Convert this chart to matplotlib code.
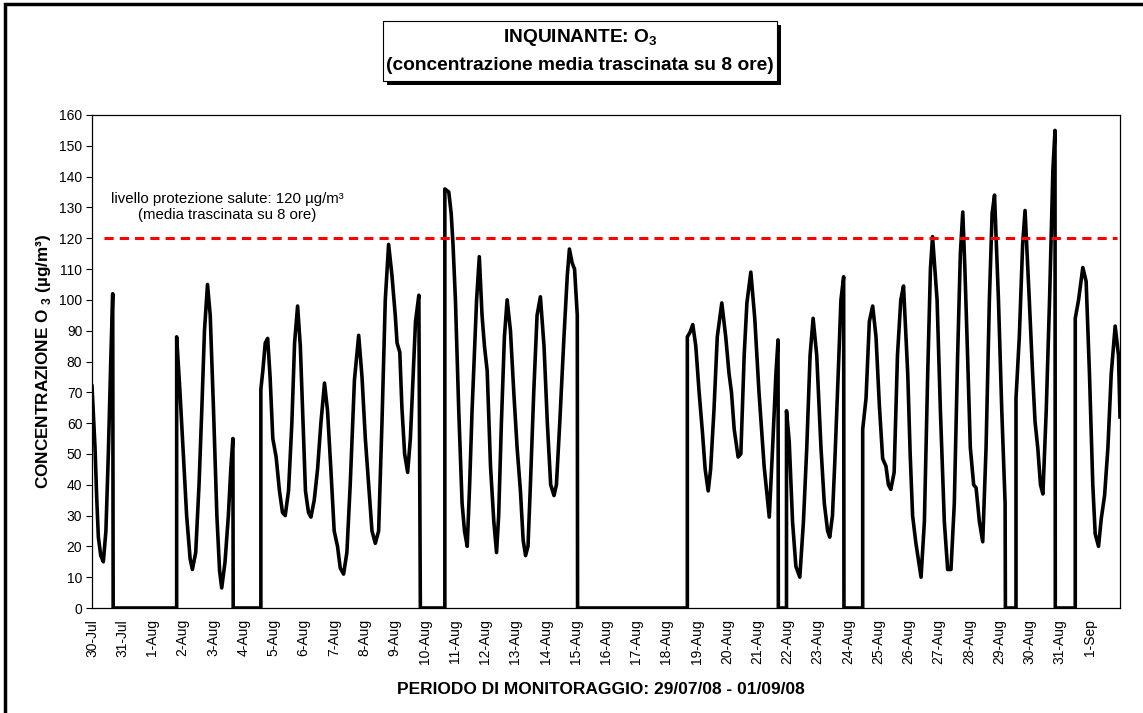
import matplotlib
matplotlib.use("Agg")
import matplotlib.pyplot as plt
from matplotlib.patches import Rectangle

plt.rcParams['font.family'] = ['Liberation Sans', 'DejaVu Sans']
plt.rcParams['mathtext.fontset'] = 'custom'
plt.rcParams['mathtext.rm'] = 'Liberation Sans'
plt.rcParams['mathtext.bf'] = 'Liberation Sans:bold'

# tempo in giorni dal 30-Jul 00:00, O3 media trascinata 8 ore (ug/m3), letto dal grafico
# i tratti a 0 sono i periodi senza dati
giorni = [
    0.00, 0.10, 0.155, 0.21, 0.29, 0.375, 0.46, 0.54, 0.62, 0.685, 0.70,
    2.80, 2.80, 2.91, 3.02, 3.13, 3.245, 3.32, 3.43, 3.54, 3.63, 3.72, 3.82, 3.91,
    4.02, 4.13, 4.22, 4.29, 4.40, 4.51, 4.59, 4.66, 4.67,
    5.585, 5.585, 5.65, 5.73, 5.81, 5.89, 5.98, 6.09, 6.20, 6.30, 6.39, 6.50, 6.61,
    6.70, 6.80, 6.89, 6.98, 7.06, 7.16, 7.24, 7.35, 7.46, 7.57, 7.69, 7.79, 7.90,
    8.01, 8.12, 8.21, 8.32, 8.43, 8.54, 8.68, 8.82, 8.93, 9.04, 9.15, 9.26, 9.37,
    9.48, 9.59, 9.70, 9.81, 9.92, 10.03, 10.09, 10.18, 10.25, 10.34, 10.44, 10.53,
    10.62, 10.70, 10.81, 10.86,
    11.67, 11.67, 11.80, 11.88, 11.94, 12.02, 12.13, 12.24, 12.32, 12.41, 12.49,
    12.57, 12.72, 12.81, 12.90, 12.98, 13.07, 13.18, 13.29, 13.38, 13.45, 13.54,
    13.64, 13.73, 13.84, 13.95, 14.06, 14.17, 14.26, 14.34, 14.42, 14.50, 14.61,
    14.72, 14.83, 14.95, 15.06, 15.17, 15.28, 15.36, 15.47, 15.61, 15.72, 15.79,
    15.88, 15.96, 16.05, 16.06,
    19.69, 19.69, 19.78, 19.87, 19.97, 20.08, 20.19, 20.28, 20.38, 20.46, 20.57,
    20.68, 20.83, 20.96, 21.07, 21.15, 21.24, 21.37, 21.46, 21.57, 21.66, 21.79,
    21.92, 22.06, 22.23, 22.40, 22.51, 22.62, 22.69, 22.70,
    22.97, 22.97, 23.06, 23.17, 23.28, 23.41, 23.53, 23.64, 23.75, 23.85, 23.97,
    24.11, 24.22, 24.33, 24.40, 24.49, 24.57, 24.68, 24.77, 24.86, 24.87,
    25.49, 25.49, 25.60, 25.71, 25.82, 25.93, 26.04, 26.15, 26.26, 26.34, 26.42,
    26.53, 26.64, 26.75, 26.84, 26.98, 27.06, 27.14, 27.25, 27.42, 27.53, 27.64,
    27.73, 27.80, 27.95, 28.06, 28.19, 28.30, 28.41, 28.52, 28.63, 28.72, 28.80,
    28.87, 28.94, 29.05, 29.16, 29.24, 29.35, 29.46, 29.57, 29.68, 29.77, 29.85,
    29.98, 30.09, 30.20, 30.21,
    30.56, 30.56, 30.67, 30.78, 30.86, 31.00, 31.11, 31.19, 31.28, 31.37, 31.45,
    31.56, 31.67, 31.78, 31.85, 31.86,
    32.52, 32.52, 32.63, 32.77, 32.88, 32.99, 33.10, 33.18, 33.29, 33.38, 33.49,
    33.60, 33.71, 33.84, 33.95, 34.00,
]
o3 = [
    72, 52, 36, 23, 17, 15, 25, 50, 80, 102, 0,
    0, 88, 70, 50, 30, 16, 12.5, 18, 40, 64, 90, 105, 95,
    64, 30, 12, 6.5, 15, 30, 45, 55, 0,
    0, 71, 77, 86, 87.5, 75, 55, 49, 38, 31, 30, 38, 60,
    86, 98, 85, 60, 38, 31, 29.5, 35, 45, 60, 73, 64, 45,
    25, 20, 13, 11, 18, 40, 74, 88.5, 75, 55, 40, 25, 21,
    25, 60, 100, 118, 108, 95, 86, 83, 65, 50, 44, 55,
    75, 93, 101.5, 0,
    0, 136, 135, 128, 118, 100, 64, 34, 25, 20, 40,
    64, 100, 114, 95, 85, 77, 46, 28, 18, 30, 60,
    88, 100, 90, 70, 52, 38, 22, 17, 20, 40, 70,
    95, 101, 85, 60, 40, 36.5, 40, 60, 88, 108, 116.5,
    112, 110, 95, 0,
    0, 88, 89.5, 92, 85, 70, 57, 45, 38, 45, 64,
    88, 99, 88, 76, 70, 58, 49, 50, 82, 99, 109,
    94, 70, 46, 29.5, 52, 76, 87, 0,
    0, 64, 54, 28, 13.5, 10, 28, 52, 82, 94, 82,
    52, 34, 25, 23, 30, 48, 76, 100, 107.5, 0,
    0, 58, 68, 93, 98, 88, 66, 48.5, 46, 40, 38.5,
    44, 82, 100, 104.5, 76, 50, 30, 21, 10, 28, 76,
    110, 120.5, 100, 64, 28, 12.5, 12.5, 34, 82, 115, 128.5,
    110, 88, 52, 40, 39, 28, 21.5, 52, 100, 128, 134,
    100, 64, 34, 0,
    0, 68, 88, 118, 129, 100, 76, 60.5, 52, 40, 37,
    64, 100, 142, 155, 0,
    0, 94, 100, 110.5, 106, 76, 40, 24, 20, 29, 36.5,
    52, 76, 91.5, 82, 62,
]
etichette = ['30-Jul', '31-Jul'] + ['%d-Aug' % d for d in range(1, 32)] + ['1-Sep']
limite = 120
limite_da, limite_a = 0.4, 33.9
yticks = list(range(0, 161, 10))

W, H = 1143, 713
fig = plt.figure(figsize=(W / 100, H / 100), dpi=100)

# cornice esterna
fig.add_artist(Rectangle((5 / W, -0.05), 1.2, 1 - 4 / H + 0.05, transform=fig.transFigure,
                         fill=False, lw=2.5, ec='black'))

ax = fig.add_axes([92 / W, 1 - 608 / H, (1120 - 92) / W, (608 - 115) / H])
ax.plot(giorni, o3, color='black', lw=2.6, solid_joinstyle='round')
ax.plot([limite_da, limite_a], [limite, limite], color='red', lw=2.2, dashes=(3, 2))

ax.set_xlim(0, len(etichette))
ax.set_ylim(0, 160)
ax.set_yticks(yticks)
ax.set_xticks(range(len(etichette)))
ax.set_xticklabels(etichette, rotation=90, fontsize=10)
ax.tick_params(axis='x', length=0, pad=8)
ax.tick_params(axis='y', length=4, width=0.8, direction='out', labelsize=10, pad=3)
for s in ax.spines.values():
    s.set_linewidth(0.9)

ax.text(4.47, 130.2, 'livello protezione salute: 120 µg/m³\n(media trascinata su 8 ore)',
        ha='center', va='center', fontsize=10.8, linespacing=1.2)

fig.text(44 / W, 1 - 361 / H, r'CONCENTRAZIONE O $_\mathbf{3}$ (µg/m³)', rotation=90,
         ha='center', va='center', fontsize=12.3, weight='bold')
fig.text(601 / W, 1 - 689 / H, 'PERIODO DI MONITORAGGIO: 29/07/08 - 01/09/08',
         ha='center', va='center', fontsize=12.5, weight='bold')

# riquadro titolo con ombra
bx0, bx1, by0, by1 = 383, 777, 21, 81
fig.add_artist(Rectangle(((bx0 + 4) / W, 1 - (by1 + 4) / H), (bx1 - bx0) / W, (by1 - by0) / H,
                         transform=fig.transFigure, fc='black', ec='black', lw=0))
fig.add_artist(Rectangle((bx0 / W, 1 - by1 / H), (bx1 - bx0) / W, (by1 - by0) / H,
                         transform=fig.transFigure, fc='white', ec='black', lw=0.8))
fig.text((bx0 + bx1) / 2 / W, 1 - 37 / H, r'INQUINANTE: O$_\mathbf{3}$',
         ha='center', va='center', fontsize=13.8, weight='bold')
fig.text((bx0 + bx1) / 2 / W, 1 - 65 / H, '(concentrazione media trascinata su 8 ore)',
         ha='center', va='center', fontsize=13.8, weight='bold')

fig.savefig('out.png', dpi=100)
